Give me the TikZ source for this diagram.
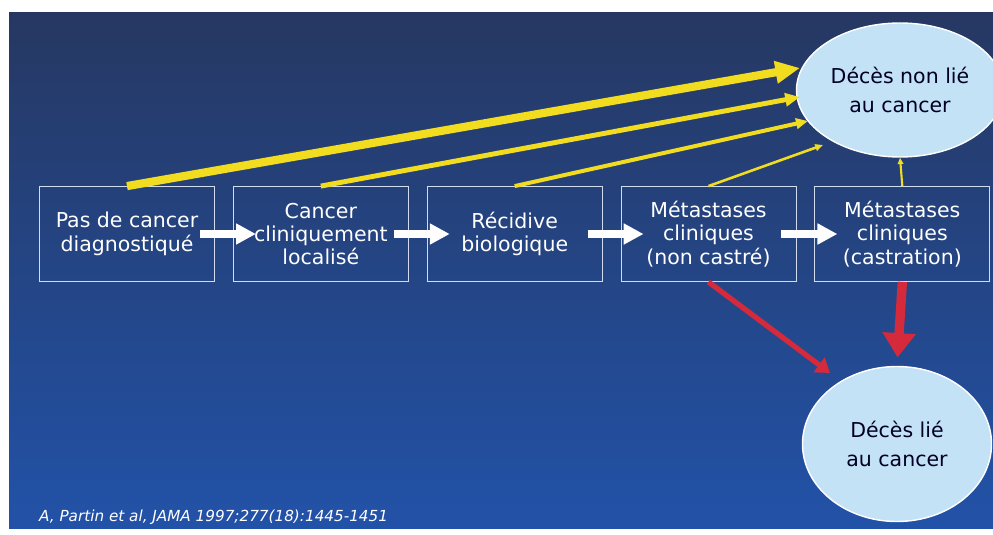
\documentclass[tikz,border=0pt]{standalone}
\usepackage{fontspec}
\setmainfont{DejaVu Sans}
\usetikzlibrary{positioning, arrows.meta, shapes.geometric}
\definecolor{slidetop}{RGB}{38,56,98}
\definecolor{slidebot}{RGB}{34,82,168}
\definecolor{arrowyellow}{RGB}{242,220,32}
\definecolor{arrowred}{RGB}{212,42,60}
\definecolor{deathfill}{RGB}{196,226,246}

\begin{document}
\begin{tikzpicture}[
  x=0.03cm, y=-0.03cm,
  stage/.style={draw=white!80!slidebot, line width=0.7pt, minimum width=5.25cm, minimum height=2.85cm,
    align=center, text=white, font=\fontsize{17.5}{20}\selectfont},
  death/.style={ellipse, draw=white, line width=1.2pt, fill=deathfill, align=center, text=black!85!blue,
    font=\fontsize{17.5}{25}\selectfont},
  progress/.style={white, line width=6pt, -{Triangle[length=17pt, width=17pt]}},
  other/.style={arrowyellow, -{Triangle[length=#1*3pt, width=#1*2.6pt]}, line width=#1*1pt},
  cancer/.style={arrowred, -{Triangle[length=#1*2.6pt, width=#1*3.4pt]}, line width=#1*1pt},
  node distance=0.54cm
]
  % slide background
  \useasboundingbox (0,0) rectangle (993,534);
  \fill[white] (0,0) rectangle (993,534);
  \shade[top color=slidetop, bottom color=slidebot] (9,13) rectangle (993,528);

  % disease stages
  \node[stage] (none) at (127,234) {Pas de cancer\\diagnostiqué};
  \node[stage, right=of none] (local) {Cancer\\cliniquement\\localisé};
  \node[stage, right=of local] (psa) {Récidive\\biologique};
  \node[stage, right=of psa] (meta) {Métastases\\cliniques\\(non castré)};
  \node[stage, right=of meta] (castr) {Métastases\\cliniques\\(castration)};

  % outcomes
  \node[death, minimum width=5.52cm, minimum height=4.02cm] (other) at (900,90) {Décès non lié\\au cancer};
  \node[death, minimum width=5.67cm, minimum height=4.65cm] (cause) at (897,444) {Décès lié\\au cancer};

  % arrow ends near the top ellipse
  \coordinate (t1) at (800,68);
  \coordinate (t2) at (800,97);
  \coordinate (t3) at (808,121);
  \coordinate (t4) at (823,145);
  \coordinate (t5) at (830,373);

  % progression
  \draw[progress, shorten <=-0.45cm, shorten >=-0.69cm] (none.east) -- (local.west);
  \draw[progress, shorten <=-0.45cm, shorten >=-0.69cm] (local.east) -- (psa.west);
  \draw[progress, shorten <=-0.45cm, shorten >=-0.69cm] (psa.east) -- (meta.west);
  \draw[progress, shorten <=-0.45cm, shorten >=-0.69cm] (meta.east) -- (castr.west);

  % death from other causes
  \draw[other=7] (none.north) -- (t1);
  \draw[other=4.2] (local.north) -- (t2);
  \draw[other=3.4] (psa.north) -- (t3);
  \draw[other=2.2] (meta.north) -- (t4);
  \draw[other=1.8] (castr.north) -- (other.south);

  % death from cancer
  \draw[cancer=4.5] (meta.south) -- (t5);
  \draw[cancer=8, shorten >=0.25cm] (castr.south) -- (cause.north);

  % reference
  \node[anchor=base west, text=white, font=\fontsize{13}{15}\selectfont\itshape] (ref) at (35,521)
    {A, Partin et al, JAMA 1997;277(18):1445-1451};
\end{tikzpicture}
\end{document}
